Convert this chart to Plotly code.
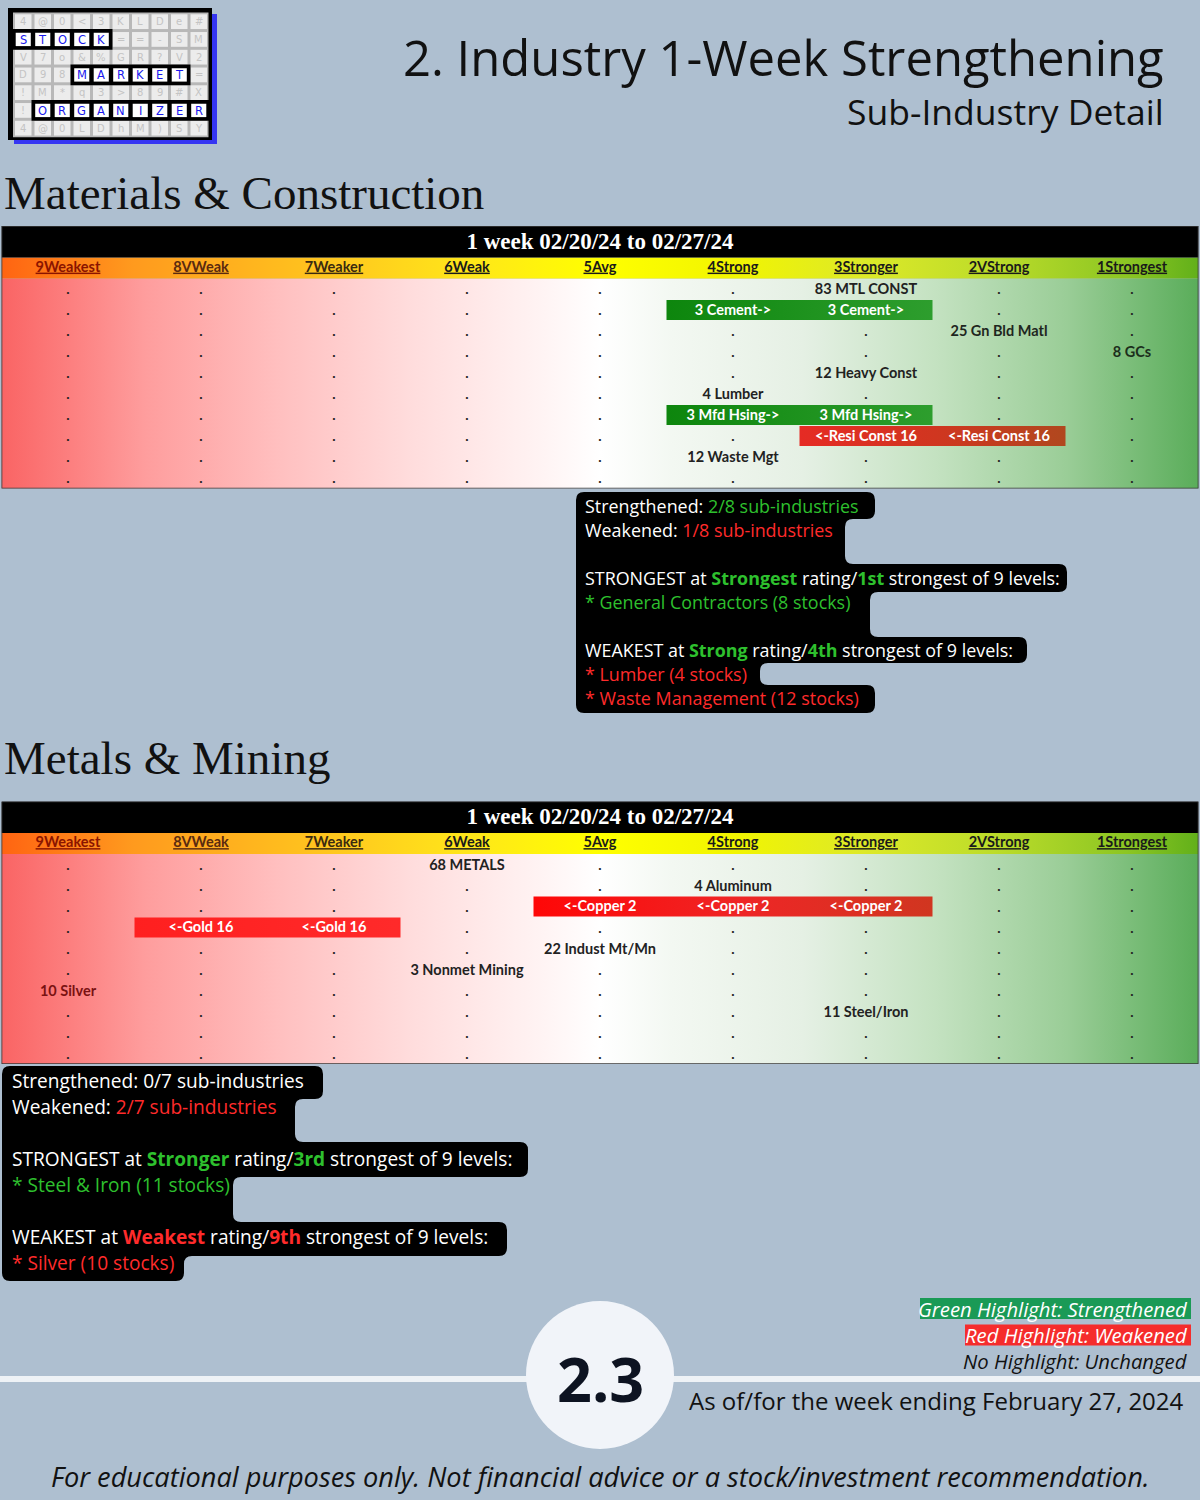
import plotly.graph_objects as go

W, H = 1200, 1500
def X(px): return px / W
def Y(py): return 1 - py / H

BG = "#aebfd0"
FONT = "Open Sans"
CELL_FONT = "Lato"
GREEN_TXT = "#2ec02e"
RED_TXT = "#ff2b2b"

# ---------------- data ----------------
LEVELS = ["9Weakest", "8VWeak", "7Weaker", "6Weak", "5Avg", "4Strong", "3Stronger", "2VStrong", "1Strongest"]
LEVEL_COLORS = ["#8a1400", "#5a2a10", "#3a2a10", "#1a1a1a", "#1a1a1a", "#1a1a1a", "#1a1a1a", "#1a1a1a", "#1a1a1a"]
CELL_TEXT_COLORS = ["#7a1212", "#222222", "#222222", "#222222", "#222222", "#222222", "#222222", "#1e261e", "#1c2e1c"]
PERIOD = "1 week 02/20/24 to 02/27/24"

# Materials & Construction: label, current level index, previous level index
mc_labels = ["83 MTL CONST", "3 Cement->", "25 Gn Bld Matl", "8 GCs", "12 Heavy Const",
             "4 Lumber", "3 Mfd Hsing->", "<-Resi Const 16", "12 Waste Mgt", None]
mc_now = [6, 6, 7, 8, 6, 5, 6, 6, 5, None]
mc_prev = [6, 5, 7, 8, 6, 5, 5, 7, 5, None]

# Metals & Mining
mm_labels = ["68 METALS", "4 Aluminum", "<-Copper 2", "<-Gold 16", "22 Indust Mt/Mn",
             "3 Nonmet Mining", "10 Silver", "11 Steel/Iron", None, None]
mm_now = [3, 5, 4, 1, 4, 3, 0, 6, None, None]
mm_prev = [3, 5, 6, 2, 4, 3, 0, 6, None, None]

BODY_CS = [[0, "#fa6464"], [0.12, "#fe9d9d"], [0.23, "#ffbfbf"], [0.34, "#ffdcdc"], [0.45, "#fff3f3"],
           [0.5, "#ffffff"], [0.56, "#f3f8f2"], [0.67, "#e5f0e4"], [0.78, "#c4e2c1"], [0.89, "#9acd97"],
           [1, "#5aad5a"]]
HEADER_CS = [[0, "#ff6412"], [0.11, "#ff9a1e"], [0.28, "#ffc81e"], [0.39, "#ffe61a"], [0.5, "#ffff00"],
             [0.61, "#f2f500"], [0.72, "#dde928"], [0.83, "#bcdc2a"], [0.94, "#8cc623"], [1, "#62b01a"]]
RED_BAR_CS = [[0, "#ff1a1a"], [0.33, "#ff2a2a"], [0.44, "#ff0606"], [0.62, "#ee2626"],
              [0.78, "#d03620"], [0.89, "#b0481e"], [1, "#a0501e"]]
GREEN_BAR_CS = [[0, "#0a820a"], [0.55, "#0c850c"], [0.78, "#2e9e2e"], [1, "#3aa63a"]]

fig = go.Figure()

def rect(x0, x1, y0, y1):
    return [x0, x1, x1, x0, x0], [y0, y0, y1, y1, y0]

def add_table(xa, ya, labels, now, prev):
    common = dict(xaxis=xa, yaxis=ya, hoverinfo="skip", showlegend=False)
    bx, by = rect(-0.5, 8.5, -0.5, 9.5)
    fig.add_trace(go.Scatter(x=bx, y=by, mode="lines", line=dict(width=0), fill="toself",
                             fillgradient=dict(type="horizontal", colorscale=BODY_CS, start=-0.5, stop=8.5),
                             **common))
    hx, hy = rect(-0.5, 8.5, -1.5, -0.5)
    fig.add_trace(go.Scatter(x=hx, y=hy, mode="lines", line=dict(width=0), fill="toself",
                             fillgradient=dict(type="horizontal", colorscale=HEADER_CS, start=-0.5, stop=8.5),
                             **common))
    tx, ty = rect(-0.5, 8.5, -3.0, -1.5)
    fig.add_trace(go.Scatter(x=tx, y=ty, mode="lines", line=dict(width=0), fill="toself",
                             fillcolor="#000000", **common))
    occupied = set()
    lab_x, lab_y, lab_t, lab_c = [], [], [], []
    hl_x, hl_y, hl_t = [], [], []
    for r, (lab, n, p) in enumerate(zip(labels, now, prev)):
        if lab is None:
            continue
        lo, hi = min(n, p), max(n, p)
        for c in range(lo, hi + 1):
            occupied.add((r, c))
        if n == p:
            lab_x.append(n); lab_y.append(r + 0.08); lab_t.append(lab); lab_c.append(CELL_TEXT_COLORS[n])
        else:
            cs = GREEN_BAR_CS if n > p else RED_BAR_CS
            rx, ry = rect(lo - 0.5, hi + 0.5, r - 0.48, r + 0.48)
            fig.add_trace(go.Scatter(x=rx, y=ry, mode="lines", line=dict(width=0), fill="toself",
                                     fillgradient=dict(type="horizontal", colorscale=cs, start=-0.5, stop=8.5),
                                     **common))
            for c in range(lo, hi + 1):
                hl_x.append(c); hl_y.append(r + 0.05); hl_t.append(lab)
    dx, dy = [], []
    for r in range(10):
        for c in range(9):
            if (r, c) not in occupied:
                dx.append(c); dy.append(r + 0.08)
    fig.add_trace(go.Scatter(x=dx, y=dy, mode="text", text=["."] * len(dx),
                             textfont=dict(family=CELL_FONT, size=14, color="#222222", weight="bold"), **common))
    fig.add_trace(go.Scatter(x=lab_x, y=lab_y, mode="text", text=lab_t,
                             textfont=dict(family=CELL_FONT, size=14.5, color=lab_c, weight="bold"), **common))
    fig.add_trace(go.Scatter(x=hl_x, y=hl_y, mode="text", text=hl_t,
                             textfont=dict(family=CELL_FONT, size=14.5, color="#ffffff", weight="bold"), **common))
    fig.add_trace(go.Scatter(x=list(range(9)), y=[-1] * 9, mode="text",
                             text=["<u>" + l + "</u>" for l in LEVELS],
                             textfont=dict(family=CELL_FONT, size=14.5, color=LEVEL_COLORS, weight="bold"), **common))
    fig.add_trace(go.Scatter(x=[4], y=[-2.2], mode="text", text=["<b>" + PERIOD + "</b>"],
                             textfont=dict(family="Liberation Serif", size=23, color="#ffffff"), **common))
    ox, oy = rect(-0.5, 8.5, -3.0, 9.5)
    fig.add_trace(go.Scatter(x=ox, y=oy, mode="lines", line=dict(width=1.6, color="#3a3a3a"), **common))

add_table("x", "y", mc_labels, mc_now, mc_prev)
add_table("x2", "y2", mm_labels, mm_now, mm_prev)

shapes = []
ann = []

def A(text, x, y, size, color="#111111", xanchor="left", family=FONT, **kw):
    ann.append(dict(text=text, x=X(x), y=Y(y), xref="paper", yref="paper", xanchor=xanchor,
                    yanchor="middle", showarrow=False, font=dict(family=family, size=size, color=color), **kw))

def R(x0, y0, x1, y1, fill, line=None, lw=0, typ="rect"):
    shapes.append(dict(type=typ, xref="paper", yref="paper", x0=X(x0), x1=X(x1), y0=Y(y1), y1=Y(y0),
                       fillcolor=fill, line=dict(width=lw, color=line or fill), layer="above"))

# ---------------- logo ----------------
LOGO_ROWS = ["4@0<3KLDe#", "STOCK==-SM", "V7o&%GR?V2", "D98MARKET=", "!M*q3>89#X", "!ORGANIZER", "4@0LDhM)SY"]
LOGO_WORDS = [(1, 0, "STOCK"), (3, 3, "MARKET"), (5, 1, "ORGANIZER")]
gx0, cw, gy0, rh = 13.5, 19.5, 12.8, 17.75
R(14, 14, 217, 144, "#3535f2")
R(8, 8, 212, 140, "#000000")
R(13, 12.5, 208.5, 137.2, "#b8b8b8")
word_cells = set()
for (wr, wc, w) in LOGO_WORDS:
    for i in range(len(w)):
        word_cells.add((wr, wc + i))
for r, row in enumerate(LOGO_ROWS):
    for c, ch in enumerate(row):
        x0 = gx0 + c * cw; y0 = gy0 + r * rh
        if (r, c) in word_cells:
            continue
        R(x0 + 1.5, y0 + 1.5, x0 + cw - 1.5, y0 + rh - 1.5, "#ececec")
        A(ch, x0 + cw / 2, y0 + rh / 2, 10, color="#c4c4c4", xanchor="center", family="DejaVu Sans")
for (wr, wc, w) in LOGO_WORDS:
    y0 = gy0 + wr * rh
    R(gx0 + wc * cw - 1.5, y0 - 1.5, gx0 + (wc + len(w)) * cw + 1.5, y0 + rh + 1.5, "#000000")
    for i, ch in enumerate(w):
        x0 = gx0 + (wc + i) * cw
        R(x0 + 2.2, y0 + 2.2, x0 + cw - 2.2, y0 + rh - 2.2, "#ffffff")
        A(ch, x0 + cw / 2, y0 + rh / 2 + 0.5, 11.5, color="#1818ee", xanchor="center", family="DejaVu Sans")

# ---------------- titles ----------------
A("2. Industry 1-Week Strengthening", 1166, 57, 49, xanchor="right")
A("Sub-Industry Detail", 1166, 111, 35.5, xanchor="right")
A("Materials &amp; Construction", 2, 193, 47, family="Liberation Serif")
A("Metals &amp; Mining", 2, 758, 47, family="Liberation Serif")

# ---------------- text boxes ----------------
def stair_path(left, segs, r=8):
    def P(x, y):
        return f"{X(x):.5f},{Y(y):.5f}"
    R0, T0, B0 = segs[0]
    d = f"M {P(left, T0 + r)} Q {P(left, T0)} {P(left + r, T0)} L {P(R0 - r, T0)} Q {P(R0, T0)} {P(R0, T0 + r)}"
    for i in range(len(segs) - 1):
        Rc, _, yb = segs[i]
        Rn = segs[i + 1][0]
        if abs(Rn - Rc) < 2 * r:
            d += f" L {P(Rc, yb)} L {P(Rn, yb)}"
        elif Rn < Rc:
            d += (f" L {P(Rc, yb - r)} Q {P(Rc, yb)} {P(Rc - r, yb)} L {P(Rn + r, yb)}"
                  f" Q {P(Rn, yb)} {P(Rn, yb + r)}")
        else:
            d += (f" L {P(Rc, yb - r)} Q {P(Rc, yb)} {P(Rc + r, yb)} L {P(Rn - r, yb)}"
                  f" Q {P(Rn, yb)} {P(Rn, yb + r)}")
    Rl, _, Bl = segs[-1]
    d += f" L {P(Rl, Bl - r)} Q {P(Rl, Bl)} {P(Rl - r, Bl)} L {P(left + r, Bl)} Q {P(left, Bl)} {P(left, Bl - r)} Z"
    shapes.append(dict(type="path", path=d, xref="paper", yref="paper", fillcolor="#000000",
                       line=dict(width=0), layer="above"))

def g(t, bold=False):
    s = f"<span style='color:{GREEN_TXT}'>{t}</span>"
    return f"<b>{s}</b>" if bold else s

def rd(t, bold=False):
    s = f"<span style='color:{RED_TXT}'>{t}</span>"
    return f"<b>{s}</b>" if bold else s

stair_path(576, [(875, 492, 519), (845, 519, 564), (1067, 564, 592), (870, 592, 637),
                 (1027, 637, 663), (760, 663, 685), (875, 685, 713)])
box1 = [
    (506, "Strengthened: " + g("2/8 sub-industries")),
    (530, "Weakened: " + rd("1/8 sub-industries")),
    (578, "STRONGEST at " + g("Strongest", True) + " rating/" + g("1st", True) + " strongest of 9 levels:"),
    (602, g("* General Contractors (8 stocks)")),
    (650, "WEAKEST at " + g("Strong", True) + " rating/" + g("4th", True) + " strongest of 9 levels:"),
    (674, rd("* Lumber (4 stocks)")),
    (698, rd("* Waste Management (12 stocks)")),
]
for y, t in box1:
    A(t, 583, y, 17.9, color="#ffffff")

stair_path(2, [(323, 1066, 1099), (295, 1099, 1142), (528, 1142, 1177), (233, 1177, 1222),
               (507, 1222, 1256), (184, 1256, 1281)])
box2 = [
    (1081, "Strengthened: 0/7 sub-industries"),
    (1107, "Weakened: " + rd("2/7 sub-industries")),
    (1159, "STRONGEST at " + g("Stronger", True) + " rating/" + g("3rd", True) + " strongest of 9 levels:"),
    (1185, g("* Steel &amp; Iron (11 stocks)")),
    (1237, "WEAKEST at " + rd("Weakest", True) + " rating/" + rd("9th", True) + " strongest of 9 levels:"),
    (1263, rd("* Silver (10 stocks)")),
]
for y, t in box2:
    A(t, 10, y, 19.1, color="#ffffff")

# ---------------- bottom ----------------
R(0, 1376, 1200, 1382, "#eef2f6")
R(526, 1301, 674, 1449, "#f1f4f9", typ="circle")
A("<b>2.3</b>", 600, 1378, 61, color="#0d1321", xanchor="center")
R(920, 1298, 1191, 1319, "#1a9a56")
R(965, 1324.5, 1191, 1345.5, "#f52c2c")
A("<i>Green Highlight: Strengthened</i>", 1190, 1308.5, 20.3, color="#ffffff", xanchor="right")
A("<i>Red Highlight: Weakened</i>", 1190, 1335, 20.3, color="#ffffff", xanchor="right")
A("<i>No Highlight: Unchanged</i>", 1190, 1361, 20.3, color="#111111", xanchor="right")
A("As of/for the week ending February 27, 2024", 1186, 1400, 24, color="#111111", xanchor="right")
A("<i>For educational purposes only. Not financial advice or a stock/investment recommendation.</i>",
  600, 1476, 27.2, color="#111111", xanchor="center")

fig.update_layout(
    width=W, height=H, margin=dict(l=0, r=0, t=0, b=0),
    paper_bgcolor=BG, plot_bgcolor="rgba(0,0,0,0)",
    font=dict(family=FONT),
    showlegend=False,
    xaxis=dict(domain=[X(1.5), X(1198.5)], range=[-0.5, 8.5], visible=False, fixedrange=True, anchor="y"),
    yaxis=dict(domain=[Y(488.5), Y(226)], range=[9.5, -3.0], visible=False, fixedrange=True, anchor="x"),
    xaxis2=dict(domain=[X(1.5), X(1198.5)], range=[-0.5, 8.5], visible=False, fixedrange=True, anchor="y2"),
    yaxis2=dict(domain=[Y(1064), Y(801.5)], range=[9.5, -3.0], visible=False, fixedrange=True, anchor="x2"),
    shapes=shapes, annotations=ann,
)
fig.write_html("out.html", config={"displayModeBar": False},
               post_script="document.body.style.margin='0';document.body.style.padding='0';")
